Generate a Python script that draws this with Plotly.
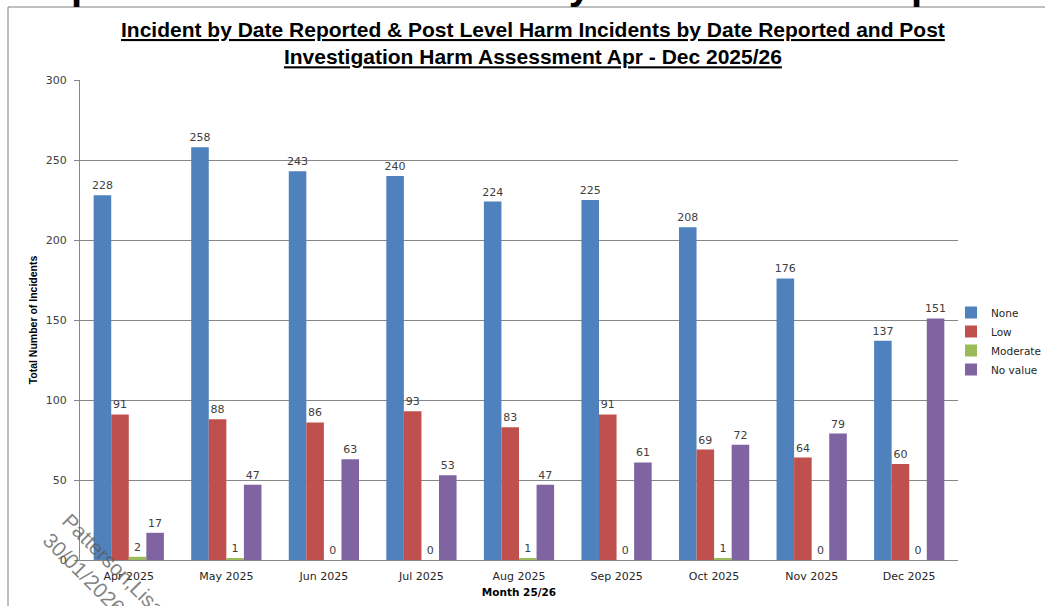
import plotly.graph_objects as go

months = ["Apr 2025", "May 2025", "Jun 2025", "Jul 2025", "Aug 2025",
          "Sep 2025", "Oct 2025", "Nov 2025", "Dec 2025"]
harm_none = [228, 258, 243, 240, 224, 225, 208, 176, 137]
harm_low = [91, 88, 86, 93, 83, 91, 69, 64, 60]
harm_moderate = [2, 1, 0, 0, 1, 0, 1, 0, 0]
harm_no_value = [17, 47, 63, 53, 47, 61, 72, 79, 151]
y_ticks = [0, 50, 100, 150, 200, 250, 300]

series = [
    ("None", harm_none, "#4F81BD"),
    ("Low", harm_low, "#C0504D"),
    ("Moderate", harm_moderate, "#9BBB59"),
    ("No value", harm_no_value, "#8064A2"),
]

W, H = 1045, 606
L, R, T, B = 80, 87, 80, 46
pw, ph = W - L - R, H - T - B


def px_x(x):
    return (x - L) / pw


def px_y(y):
    return (H - B - y) / ph


fig = go.Figure()
for name, vals, color in series:
    fig.add_trace(go.Bar(
        name=name, x=months, y=vals,
        marker=dict(color=color, line=dict(width=0)),
        text=[str(v) for v in vals], textposition="outside",
        constraintext="none", cliponaxis=False,
        textfont=dict(family="DejaVu Sans", size=11, color="#404040"),
    ))

annotations = [
    # chart title
    dict(text="<b><u>Incident by Date Reported &amp; Post Level Harm Incidents by Date Reported and Post</u></b><br>"
              "<b><u>Investigation Harm Assessment Apr - Dec 2025/26</u></b>",
         x=px_x(533), y=px_y(43), xref="paper", yref="paper",
         xanchor="center", yanchor="middle", showarrow=False,
         font=dict(family="Liberation Sans", size=21, color="#000000"),
         align="center"),
    # slide heading above the chart frame
    dict(text="<b>Graph Incidents Harm Level by Month and Group</b>",
         x=px_x(0), y=px_y(9), xref="paper", yref="paper",
         xanchor="left", yanchor="bottom", showarrow=False,
         font=dict(family="Liberation Sans", size=40, color="#000000")),
    # viewer stamp
    dict(text="Patterson,Lisa<br>30/01/2026",
         x=px_x(104), y=px_y(574), xref="paper", yref="paper",
         xanchor="center", yanchor="middle", showarrow=False, textangle=45,
         align="left",
         font=dict(family="Liberation Sans", size=21, color="rgba(90,90,90,0.75)")),
]

shapes = [
    dict(type="line", xref="paper", yref="paper",
         x0=px_x(8), x1=px_x(1045), y0=px_y(7), y1=px_y(7),
         line=dict(color="#7F7F7F", width=1)),
    dict(type="line", xref="paper", yref="paper",
         x0=px_x(8), x1=px_x(8), y0=px_y(7), y1=px_y(606),
         line=dict(color="#7F7F7F", width=1)),
]

fig.update_layout(
    width=W, height=H,
    margin=dict(l=L, r=R, t=T, b=B, autoexpand=False),
    paper_bgcolor="white", plot_bgcolor="white",
    barmode="group", bargap=0.28, bargroupgap=0,
    font=dict(family="DejaVu Sans", size=11, color="#404040"),
    showlegend=True,
    legend=dict(x=951 / W, y=1 - 341 / H, xref="container", yref="container",
                xanchor="left", yanchor="middle",
                font=dict(family="DejaVu Sans", size=10.5, color="#262626"),
                bgcolor="rgba(0,0,0,0)", itemwidth=30, tracegroupgap=0),
    annotations=annotations,
    shapes=shapes,
)

fig.update_xaxes(
    showline=True, linecolor="#878787", linewidth=1,
    showgrid=False, ticks="", ticklabelstandoff=6,
    tickfont=dict(family="DejaVu Sans", size=11, color="#262626"),
    title=dict(text="<b>Month 25/26</b>", standoff=6,
               font=dict(family="DejaVu Sans", size=10.5, color="#000000")),
)
fig.update_yaxes(
    range=[0, 300], tickvals=y_ticks, ticktext=[str(v) for v in y_ticks],
    showline=True, linecolor="#878787", linewidth=1,
    showgrid=True, gridcolor="#878787", gridwidth=1,
    ticks="outside", ticklen=5, tickcolor="#878787", ticklabelstandoff=5,
    tickfont=dict(family="DejaVu Sans", size=11, color="#404040"),
    zeroline=False,
    title=dict(text="<b>Total Number of Incidents</b>", standoff=6,
               font=dict(family="Liberation Sans", size=10.5, color="#000000")),
)

fig.write_html("out.html")
